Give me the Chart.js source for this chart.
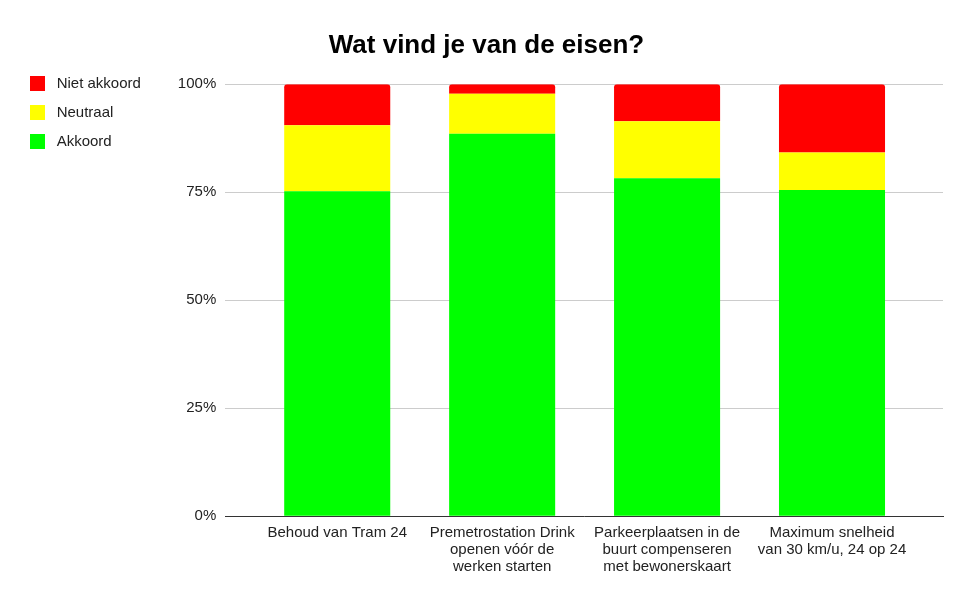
<!DOCTYPE html>
<html>
<head>
<meta charset="utf-8">
<script src="https://cdn.jsdelivr.net/npm/chart.js@4"></script>
<style>
	html, body { margin: 0; padding: 0; background: #fff; }
	#wrap { width: 974px; height: 601px; }
</style>
</head>
<body>
<div id="wrap"><canvas id="eisenChart"></canvas></div>
<script>
// categories (x-axis), one label line per array entry
const categories = [
	['Behoud van Tram 24'],
	['Premetrostation Drink', 'openen vóór de', 'werken starten'],
	['Parkeerplaatsen in de', 'buurt compenseren', 'met bewonerskaart'],
	['Maximum snelheid', 'van 30 km/u, 24 op 24']
];

// share of answers per category, in %
const akkoord = [75.2, 88.5, 78.2, 75.5];
const neutraal = [15.3, 9.3, 13.2, 8.7];
const nietAkkoord = [9.5, 2.2, 8.6, 15.8];

const yTicks = [0, 25, 50, 75, 100];

function toXY(values) {
	var out = [];
	for (var i = 0; i < values.length; i++) {
		out.push({x: i, y: values[i]});
	}
	return out;
}

Chart.defaults.font.family = '"Liberation Sans", Arial, sans-serif';
Chart.defaults.color = '#222';

// x runs a bit wider than the bars so the grid spans the whole plot
const xMin = -0.679;
const xMax = 3.673;

const config = {
	type: 'bar',
	data: {
		datasets: [
			{
				label: 'Akkoord',
				data: toXY(akkoord),
				backgroundColor: '#00ff00'
			},
			{
				label: 'Neutraal',
				data: toXY(neutraal),
				backgroundColor: '#ffff00'
			},
			{
				label: 'Niet akkoord',
				data: toXY(nietAkkoord),
				backgroundColor: '#ff0000',
				borderRadius: {topLeft: 3, topRight: 3},
				borderSkipped: 'bottom'
			}
		]
	},
	options: {
		responsive: true,
		maintainAspectRatio: false,
		animation: false,
		categoryPercentage: 0.643,
		barPercentage: 1,
		layout: {
			padding: {left: 16, right: 17, top: 10, bottom: 26}
		},
		plugins: {
			title: {
				display: true,
				text: 'Wat vind je van de eisen?',
				color: '#000',
				font: {size: 26, weight: 'bold'},
				padding: {top: 20, bottom: 23}
			},
			legend: {
				position: 'left',
				align: 'start',
				reverse: true,
				title: {
					display: true,
					text: ' ',
					font: {size: 15},
					padding: {top: 0, bottom: 34}
				},
				labels: {
					boxWidth: 15,
					boxHeight: 15,
					padding: 14,
					font: {size: 15},
					color: '#222',
					// a little more room between swatch and text
					generateLabels: function(chart) {
						var items = Chart.defaults.plugins.legend.labels.generateLabels(chart);
						items.forEach(function(item) { item.text = ' ' + item.text; });
						return items;
					}
				}
			},
			tooltip: {enabled: false}
		},
		scales: {
			x: {
				type: 'linear',
				stacked: true,
				offset: false,
				bounds: 'data',
				min: xMin,
				max: xMax,
				afterBuildTicks: function(scale) {
					scale.ticks = categories.map(function(c, i) { return {value: i}; });
					scale.min = xMin;
					scale.max = xMax;
				},
				ticks: {
					autoSkip: false,
					maxRotation: 0,
					font: {size: 15, lineHeight: 1.13},
					color: '#222',
					padding: 0,
					callback: function(value) { return categories[value]; }
				},
				grid: {display: false, offset: false},
				border: {display: true, color: '#333', width: 1}
			},
			y: {
				stacked: true,
				min: 0,
				max: 100,
				afterBuildTicks: function(scale) {
					scale.ticks = yTicks.map(function(v) { return {value: v}; });
				},
				afterFit: function(scale) {
					scale.width += 18;
				},
				ticks: {
					font: {size: 15},
					color: '#222',
					padding: 9,
					callback: function(value) { return value + '%'; }
				},
				grid: {color: '#cccccc', drawTicks: false},
				border: {display: false}
			},
			// empty spacer on the right so the title stays centred on the page
			spacer: {
				type: 'linear',
				position: 'right',
				display: true,
				grid: {display: false},
				ticks: {display: false},
				border: {display: false},
				afterFit: function(scale) {
					scale.width = 14;
				}
			}
		}
	}
};

new Chart(document.getElementById('eisenChart'), config);
</script>
</body>
</html>
